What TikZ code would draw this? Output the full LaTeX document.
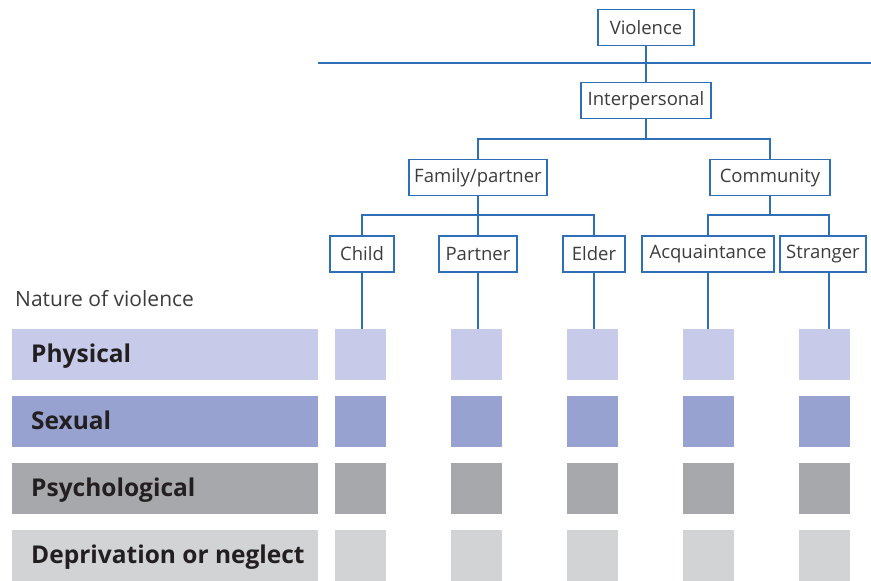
\documentclass[tikz,border=0pt]{standalone}
\usepackage{fontspec}
\setmainfont{Open Sans}
\definecolor{boxblue}{HTML}{2E6FB7}
\definecolor{boxtext}{HTML}{3C3C3C}
\definecolor{labtext}{HTML}{231F20}
\definecolor{physcol}{HTML}{C7CBE9}
\definecolor{sexcol}{HTML}{98A2D0}
\definecolor{psycol}{HTML}{A7A8AB}
\definecolor{depcol}{HTML}{D1D3D5}
\tikzset{
  treebox/.style={draw=boxblue, line width=1.6pt, fill=white, text=boxtext,
    font=\fontsize{18.5}{20}\selectfont, minimum height=36pt, inner xsep=5pt, inner ysep=0pt},
  treeline/.style={draw=boxblue, line width=1.6pt},
  bar/.style={minimum width=306pt, minimum height=51pt, inner sep=0pt},
  cell/.style={minimum width=51pt, minimum height=51pt, inner sep=0pt},
  barlabel/.style={anchor=base west, inner sep=0pt, text=labtext, font=\fontsize{24.5}{26}\selectfont\bfseries},
}
\begin{document}
\begin{tikzpicture}[x=1pt, y=-1pt]
      \useasboundingbox (0,0) rectangle (871,581);
      %
      \node[treebox, minimum width=96pt] (vio) at (646,27.5) {Violence};
      \node[treebox, minimum width=130pt] (inter) at (646,100.5) {Interpersonal};
      \node[treebox, minimum width=136pt] (fam) at (478,177.5) {Family/partner};
      \node[treebox, minimum width=120pt] (com) at (770,177.5) {Community};
      \node[treebox, minimum width=64pt] (child) at (362,254) {Child};
      \node[treebox, minimum width=78pt] (part) at (478,254) {Partner};
      \node[treebox, minimum width=62pt] (elder) at (594,254) {Elder};
      \node[treebox, minimum width=132pt] (acq) at (708,254) {Acquaintance};
      \node[treebox, minimum width=86pt] (str) at (823,254) {Stranger};
      %
      \coordinate (hl) at (318,63);
      \coordinate (hr) at (871,63);
      \draw[treeline] (hl) -- (hr);
      \draw[treeline] (vio.south) -- (inter.north);
      %
      \draw[treeline] (inter.south) -- ++(0,20);
      \draw[treeline] (fam.north) -- ++(0,-20) -| (com.north);
      \draw[treeline] (fam.south) -- (part.north);
      \draw[treeline] (child.north) -- ++(0,-20) -| (elder.north);
      \draw[treeline] (com.south) -- ++(0,20);
      \draw[treeline] (acq.north) -- ++(0,-20) -| ([xshift=6pt]str.north);
      %
      \node[anchor=base west, inner sep=0pt, text=boxtext, font=\fontsize{21}{23}\selectfont] (nature) at (15,306) {Nature of violence};
      %
      \foreach \row/\col/\lab [count=\i] in {354.5/physcol/Physical, 421.5/sexcol/Sexual,
          488.5/psycol/Psychological, 555.5/depcol/Deprivation or neglect} {
        \node[bar, fill=\col] (bar\i) at (165,\row) {};
        \node[barlabel] (lab\i) at (31,{\row+7.5}) {\lab};
        \foreach \x [count=\j] in {360,476,592,708,824}
          \node[cell, fill=\col] (cell\i\j) at (\x,\row) {};
      }
      %
      \foreach \n/\j in {child/1, part/2, elder/3, acq/4}
        \draw[treeline] (\n.south) -- (\n.south |- cell1\j.north);
      \draw[treeline] ([xshift=6pt]str.south) -- ([xshift=6pt]str.south |- cell15.north);
      %
    \end{tikzpicture}
\end{document}
